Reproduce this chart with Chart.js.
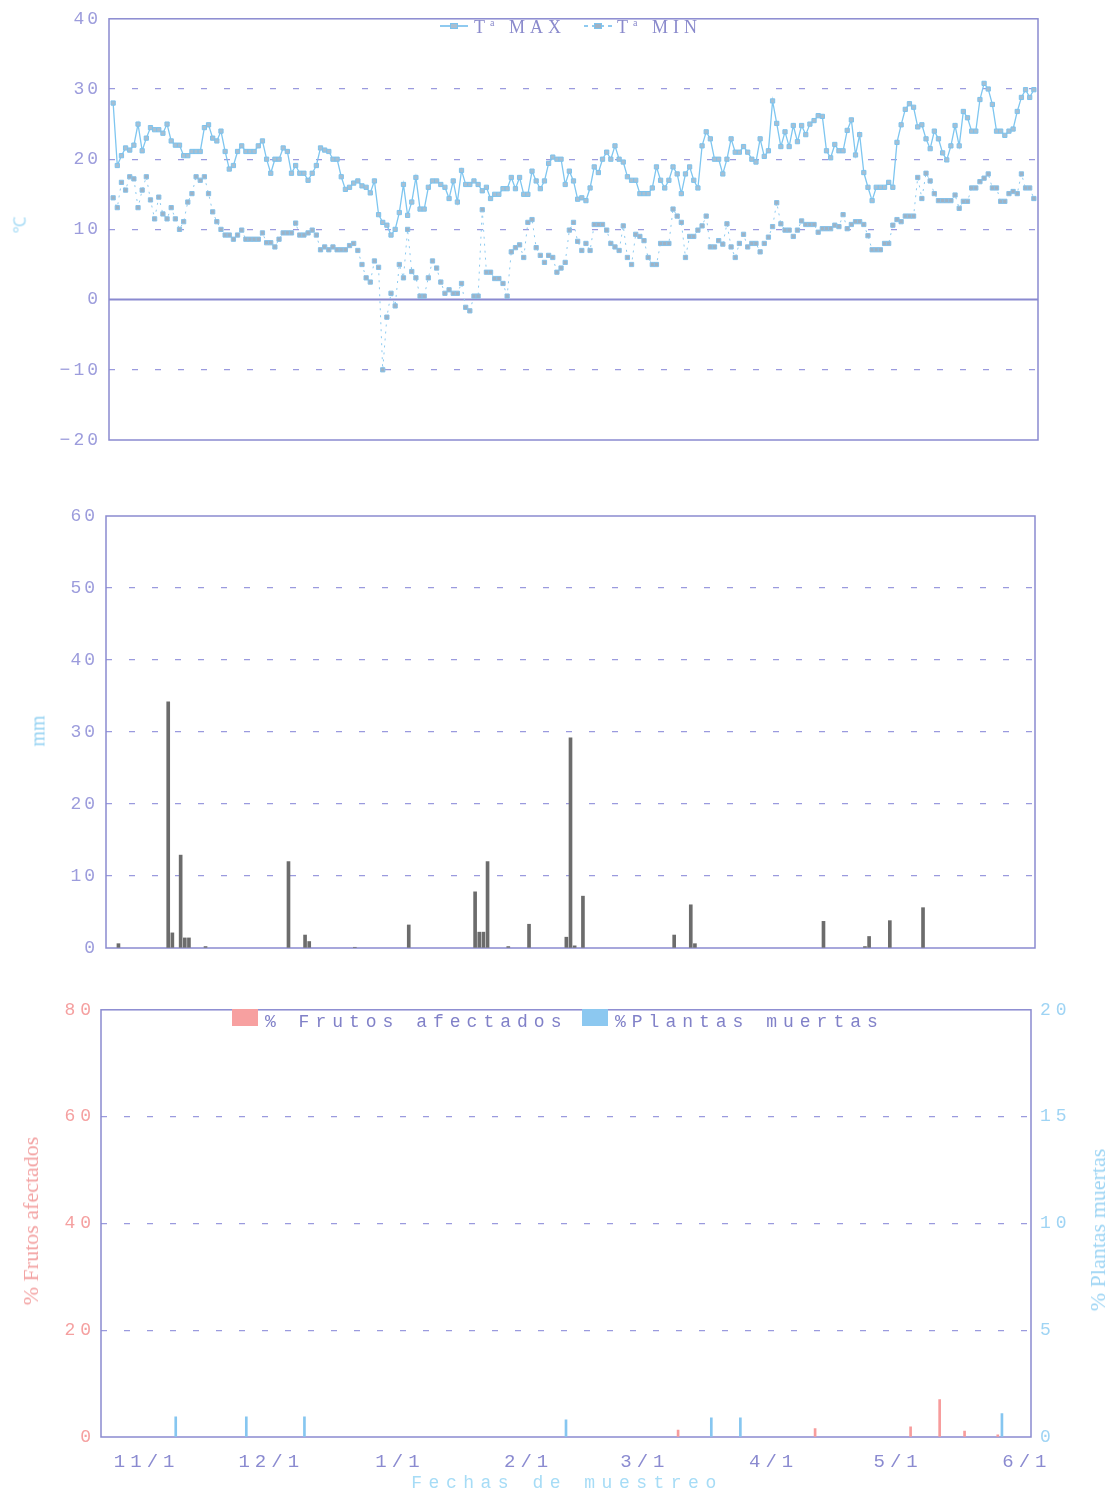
<!DOCTYPE html>
<html>
<head>
<meta charset="utf-8">
<script src="https://cdn.jsdelivr.net/npm/chart.js@4.4.0/dist/chart.umd.min.js"></script>
<style>
  body { margin: 0; background: #fff; }
  #page { position: relative; width: 1113px; height: 1498px; overflow: hidden; background: #fff; }
  canvas { position: absolute; left: 0; }
  .txt { position: absolute; white-space: nowrap; line-height: 1; }
  .rot { transform: translate(-50%, -50%) rotate(-90deg); }
  .sym { position: absolute; width: 28px; height: 2px; }
  .sym i { position: absolute; left: 10px; top: -2px; width: 6px; height: 4px; background: #a9bfd1; border: 1px solid #7cc3ee; }
  .box { position: absolute; width: 26px; height: 17px; }
</style>
</head>
<body>
<div id="page">
  <canvas id="tempChart" width="1113" height="460" style="top:0"></canvas>
  <canvas id="rainChart" width="1113" height="480" style="top:490px"></canvas>
  <canvas id="damageChart" width="1113" height="508" style="top:990px"></canvas>

  <!-- top legend -->
  <div class="sym" style="left:440px; top:25px; background:#8fcaf0;"><i></i></div>
  <div class="txt" style="left:474px; top:17px; font:18px 'Liberation Serif'; letter-spacing:5px; color:#8a8acc;">T<sup style="font-size:10px">a</sup> MAX</div>
  <div class="sym" style="left:584px; top:25px; background:repeating-linear-gradient(to right,#8fcaf0 0 4px,transparent 4px 8px);"><i style="background:#9fb2c4"></i></div>
  <div class="txt" style="left:617px; top:17px; font:18px 'Liberation Serif'; letter-spacing:5px; color:#8a8acc;">T<sup style="font-size:10px">a</sup> MIN</div>

  <div class="txt rot" style="left:19px; top:225px; font:17px 'Liberation Serif'; color:#a6dbf5;">℃</div>
  <div class="txt rot" style="left:38px; top:731px; font:20px 'Liberation Serif'; color:#95d2f2;">mm</div>

  <!-- bottom legend -->
  <div class="box" style="left:232px; top:1009px; background:#f7a0a0;"></div>
  <div class="txt" style="left:265px; top:1012px; font:18px 'Liberation Mono'; letter-spacing:6px; color:#8181c8;">% Frutos afectados</div>
  <div class="box" style="left:582px; top:1009px; background:#8cc8f0;"></div>
  <div class="txt" style="left:615px; top:1012px; font:18px 'Liberation Mono'; letter-spacing:6px; color:#8181c8;">%Plantas muertas</div>

  <div class="txt rot" style="left:31px; top:1221px; font:22px 'Liberation Serif'; color:#f3a3a3;">% Frutos afectados</div>
  <div class="txt rot" style="left:1098px; top:1230px; font:22px 'Liberation Serif'; color:#9ed5f4;">% Plantas muertas</div>
  <div class="txt" style="left:567px; top:1483px; transform:translate(-50%,-50%); font:18px 'Liberation Mono'; letter-spacing:6.5px; color:#a6dcf6;">Fechas de muestreo</div>
</div>

<script>
// ---- season calendar: day 0 = 21 Oct ----
const seasonStart = new Date(2000, 9, 21);
function dayIndex(md) {
  const [m, d] = md.split("/").map(Number);
  const year = m >= 10 ? 2000 : 2001;
  return Math.round((new Date(year, m - 1, d) - seasonStart) / 86400000);
}

const monthTicks = ["11/1", "12/1", "1/1", "2/1", "3/1", "4/1", "5/1", "6/1"];

// ---- daily temperatures, from 10/22 ----
const firstTempDay = "10/22";
const tmax = [
  28.0, 19.1, 20.5, 21.6, 21.3, 22.0, 25.0, 21.2, 23.0, 24.5, 24.2, 24.2, 23.7, 25.0, 22.6, 22.0, 22.0, 20.5, 20.5, 21.1,
  21.1, 21.1, 24.5, 24.9, 23.0, 22.6, 24.0, 21.1, 18.6, 19.1, 21.1, 21.9, 21.1, 21.1, 21.1, 21.9, 22.6, 20.0, 18.0, 20.0,
  20.0, 21.6, 21.1, 18.0, 19.1, 18.0, 18.0, 17.0, 18.0, 19.1, 21.6, 21.3, 21.1, 20.0, 20.0, 17.5, 15.7,
  16.0, 16.6, 16.9, 16.2, 16.0, 15.2, 16.9, 12.1, 11.0, 10.6, 9.2, 10.0, 12.4, 16.4, 12.0, 13.9, 17.4, 12.9, 12.9, 16.0,
  16.9, 16.9, 16.4, 16.0, 14.4, 16.9, 13.9, 18.4, 16.4, 16.4, 16.9, 16.4, 15.5, 16.0, 14.4, 15.0, 15.0, 15.8, 15.8, 17.4,
  15.8, 17.4, 15.0, 15.0, 18.3, 16.9, 15.8, 16.9, 19.4, 20.3, 20.0, 20.0, 16.4, 18.3, 16.9, 14.3,
  14.5, 14.1, 15.9, 18.9, 18.1, 20.0, 21.0, 20.0, 21.9, 20.0, 19.6, 17.5, 17.0, 17.0, 15.1, 15.1, 15.1, 15.9, 18.9, 17.0,
  15.9, 17.0, 18.9, 17.9, 15.1, 17.9, 18.9, 17.0, 15.9, 21.9, 23.9, 22.9, 20.0, 20.0, 17.9, 20.0, 22.9, 21.0, 21.0, 21.8,
  21.0, 20.0, 19.6, 22.9, 20.4, 21.2, 28.3, 25.1, 21.8, 23.9, 21.8, 24.8, 22.5, 24.8,
  23.5, 25.0, 25.5, 26.2, 26.1, 21.2, 20.2, 22.1, 21.2, 21.2, 24.1, 25.6, 20.6, 23.5, 18.1, 16.0, 14.1, 16.0, 16.0, 16.0,
  16.7, 16.0, 22.4, 24.9, 27.1, 27.9, 27.4, 24.6, 24.9, 22.9, 21.5, 24.0, 22.9, 20.9, 19.9, 21.9, 24.8, 21.9, 26.8, 25.9,
  24.0, 24.0, 28.5, 30.8, 30.0, 27.8, 24.0, 24.0, 23.4, 24.0, 24.3, 26.8, 28.8, 29.9, 28.8, 29.9
];
const tmin = [
  14.5, 13.1, 16.7, 15.6, 17.5, 17.2, 13.1, 15.6, 17.5, 14.2, 11.5, 14.6, 12.2, 11.5, 13.1, 11.5, 10.0, 11.1, 13.9, 15.1,
  17.5, 17.0, 17.5, 15.1, 12.5, 11.1, 10.0, 9.2, 9.2, 8.6, 9.2, 9.9, 8.6, 8.6, 8.6, 8.6, 9.5, 8.1, 8.1, 7.5,
  8.6, 9.5, 9.5, 9.5, 10.9, 9.2, 9.2, 9.5, 9.9, 9.2, 7.1, 7.5, 7.1, 7.5, 7.1, 7.1, 7.1,
  7.7, 8.0, 7.0, 5.0, 3.1, 2.5, 5.5, 4.6, -10.0, -2.5, 0.9, -0.9, 5.0, 3.1, 10.0, 4.0, 3.1, 0.5, 0.5, 3.1,
  5.5, 4.5, 2.5, 0.9, 1.4, 0.9, 0.9, 2.3, -1.1, -1.6, 0.5, 0.5, 12.8, 3.9, 3.9, 3.0, 3.0, 2.3, 0.5, 6.8,
  7.4, 7.8, 6.0, 11.0, 11.4, 7.4, 6.3, 5.3, 6.3, 6.0, 3.9, 4.5, 5.3, 9.9, 11.0, 8.3,
  7.0, 8.0, 7.0, 10.7, 10.7, 10.7, 9.9, 8.0, 7.5, 7.0, 10.5, 6.0, 5.0, 9.3, 9.0, 8.4, 6.0, 5.0, 5.0, 8.0,
  8.0, 8.0, 12.9, 11.9, 11.0, 6.0, 9.0, 9.0, 9.9, 10.5, 11.9, 7.5, 7.5, 8.4, 7.9, 10.8, 7.5, 6.0, 8.0, 9.3,
  7.5, 8.0, 8.0, 6.8, 8.0, 8.9, 10.4, 13.8, 10.8, 9.9, 9.9, 9.0, 9.9, 11.2,
  10.7, 10.7, 10.7, 9.6, 10.1, 10.1, 10.1, 10.6, 10.4, 12.1, 10.1, 10.7, 11.1, 11.1, 10.7, 9.1, 7.1, 7.1, 7.1, 8.0,
  8.0, 10.6, 11.4, 11.1, 11.9, 11.9, 11.9, 17.4, 14.4, 18.0, 16.9, 15.1, 14.1, 14.1, 14.1, 14.1, 14.9, 13.0, 14.0, 14.0,
  15.9, 15.9, 16.8, 17.3, 17.9, 15.9, 15.9, 14.0, 14.0, 15.1, 15.4, 15.1, 17.9, 15.9, 15.9, 14.4
];

// ---- rainfall (mm), only the rainy days ----
const rainDays = [3, 15, 16, 18, 19, 20, 24, 44, 48, 49, 60, 73, 89, 90, 91, 92, 97, 102, 111, 112, 113, 115, 137, 141, 142, 173, 183, 184, 189, 197];
const rainMm = [0.6, 34.2, 2.1, 12.9, 1.4, 1.4, 0.2, 12.0, 1.8, 0.9, 0.1, 3.2, 7.8, 2.2, 2.2, 12.0, 0.2, 3.3, 1.5, 29.2, 0.3, 7.2, 1.8, 6.0, 0.6, 3.7, 0.2, 1.6, 3.8, 5.6];

// ---- sampling dates ----
const fruitDates = ["3/9", "4/11", "5/4", "5/11", "5/17", "5/25"];
const fruitPct = [1.3, 1.6, 1.9, 7.0, 1.1, 0.4];
const plantDates = ["11/8", "11/25", "12/9", "2/10", "3/17", "3/24", "5/26"];
const plantPct = [0.95, 0.95, 0.95, 0.8, 0.9, 0.9, 1.1];

// ---- styles ----
const lavender = "#9c9cdc";
const frameColor = "#8a8ad0";
const gridColor = "#9a9ade";
const gridDash = [6, 17];
const monoFont = { family: "Liberation Mono", size: 18 };

const framePlugin = {
  id: "frame",
  beforeDraw(chart, args, opts) {
    chart.ctx.letterSpacing = opts.spacing || "0px";
  },
  beforeDatasetsDraw(chart, args, opts) {
    const { ctx, chartArea: a } = chart;
    ctx.save();
    ctx.strokeStyle = opts.color;
    ctx.lineWidth = opts.width;
    ctx.strokeRect(a.left, a.top, a.right - a.left, a.bottom - a.top);
    if (opts.zeroLine) {
      const y = chart.scales.y.getPixelForValue(0);
      ctx.lineWidth = 2;
      ctx.beginPath();
      ctx.moveTo(a.left, y);
      ctx.lineTo(a.right, y);
      ctx.stroke();
    }
    ctx.restore();
  }
};

const startDay = dayIndex(firstTempDay);
const toPoints = (arr) => arr.map((v, i) => ({ x: startDay + i, y: v }));
const dashedGrid = (ctx) =>
  ctx.tick.value === 0 || ctx.index === ctx.scale.ticks.length - 1 ? "rgba(0,0,0,0)" : gridColor;

// =========================
// ===== TEMPERATURES ======
// =========================
new Chart(document.getElementById("tempChart"), {
  type: "line",
  data: {
    datasets: [
      {
        label: "Tª MAX",
        data: toPoints(tmax),
        borderColor: "#7ec6f0",
        borderWidth: 1.3,
        pointStyle: "rect",
        pointRadius: 3,
        pointBackgroundColor: "#a9bfd1",
        pointBorderColor: "#7cc3ee",
        pointBorderWidth: 1
      },
      {
        label: "Tª MIN",
        data: toPoints(tmin),
        borderColor: "#8ccaf0",
        borderWidth: 1,
        borderDash: [2, 5],
        pointStyle: "rect",
        pointRadius: 3,
        pointBackgroundColor: "#9fb2c4",
        pointBorderColor: "#86c2ea",
        pointBorderWidth: 1
      }
    ]
  },
  options: {
    responsive: false,
    animation: false,
    layout: { padding: { left: 0, right: 75, top: 15, bottom: 20 } },
    plugins: {
      legend: { display: false },
      tooltip: { enabled: false },
      frame: { color: frameColor, width: 1.5, zeroLine: true, spacing: "3px" }
    },
    scales: {
      x: { type: "linear", display: false, min: 0, max: 224 },
      y: {
        min: -20,
        max: 40,
        ticks: {
          stepSize: 10,
          color: lavender,
          font: monoFont,
          padding: 8,
          callback: (v) => (v < 0 ? "−" + Math.abs(v) : String(v))
        },
        grid: { color: (ctx) => (ctx.tick.value === 0 || ctx.tick.value === 40 || ctx.tick.value === -20 ? "rgba(0,0,0,0)" : gridColor), drawTicks: false, lineWidth: 1.3 },
        border: { display: false, dash: gridDash },
        afterFit: (s) => { s.width = 109; }
      }
    }
  },
  plugins: [framePlugin]
});

// =========================
// ======= RAINFALL ========
// =========================
new Chart(document.getElementById("rainChart"), {
  type: "bar",
  data: {
    datasets: [
      {
        label: "mm",
        data: rainDays.map((d, i) => ({ x: d, y: rainMm[i] })),
        backgroundColor: "#6c6c6c",
        barThickness: 3
      }
    ]
  },
  options: {
    responsive: false,
    animation: false,
    layout: { padding: { left: 0, right: 78, top: 26, bottom: 22 } },
    plugins: {
      legend: { display: false },
      tooltip: { enabled: false },
      frame: { color: frameColor, width: 1.5, spacing: "3px" }
    },
    scales: {
      x: { type: "linear", display: false, min: 0, max: 224, offset: false },
      y: {
        min: 0,
        max: 60,
        ticks: { stepSize: 10, color: lavender, font: monoFont, padding: 8 },
        grid: { color: dashedGrid, drawTicks: false, lineWidth: 1.3 },
        border: { display: false, dash: gridDash },
        afterFit: (s) => { s.width = 106; }
      }
    }
  },
  plugins: [framePlugin]
});

// =========================
// ==== FRUITS / PLANTS ====
// =========================
new Chart(document.getElementById("damageChart"), {
  type: "bar",
  data: {
    datasets: [
      {
        label: "% Frutos afectados",
        data: fruitDates.map((d, i) => ({ x: dayIndex(d), y: fruitPct[i] })),
        backgroundColor: "#f79c9c",
        barThickness: 2,
        grouped: false,
        yAxisID: "yL"
      },
      {
        label: "%Plantas muertas",
        data: plantDates.map((d, i) => ({ x: dayIndex(d), y: plantPct[i] })),
        backgroundColor: "#86c6f0",
        barThickness: 2,
        grouped: false,
        yAxisID: "yR"
      }
    ]
  },
  options: {
    responsive: false,
    animation: false,
    layout: { padding: { left: 0, right: 0, top: 19, bottom: 31 } },
    plugins: {
      legend: { display: false },
      tooltip: { enabled: false },
      frame: { color: frameColor, width: 1.5, spacing: "5px" }
    },
    scales: {
      x: {
        type: "linear",
        min: 0,
        max: 224,
        offset: false,
        grid: { display: false },
        border: { display: false },
        afterBuildTicks: (s) => { s.ticks = monthTicks.map((m) => ({ value: dayIndex(m) })); },
        ticks: {
          autoSkip: false,
          maxRotation: 0,
          color: "#8a8ad0",
          font: { family: "Liberation Mono", size: 19 },
          padding: 6,
          callback: (v, i) => monthTicks[i]
        },
        afterFit: (s) => { s.height = 30; }
      },
      yL: {
        position: "left",
        min: 0,
        max: 80,
        ticks: { stepSize: 20, color: "#f5a0a0", font: monoFont, padding: 5 },
        grid: { color: dashedGrid, drawTicks: false, lineWidth: 1.3 },
        border: { display: false, dash: gridDash },
        afterFit: (s) => { s.width = 101; }
      },
      yR: {
        position: "right",
        min: 0,
        max: 20,
        ticks: { stepSize: 5, color: "#9fd4f4", font: monoFont, padding: 9 },
        grid: { drawOnChartArea: false, drawTicks: false },
        border: { display: false },
        afterFit: (s) => { s.width = 82; }
      }
    }
  },
  plugins: [framePlugin]
});
</script>
</body>
</html>
